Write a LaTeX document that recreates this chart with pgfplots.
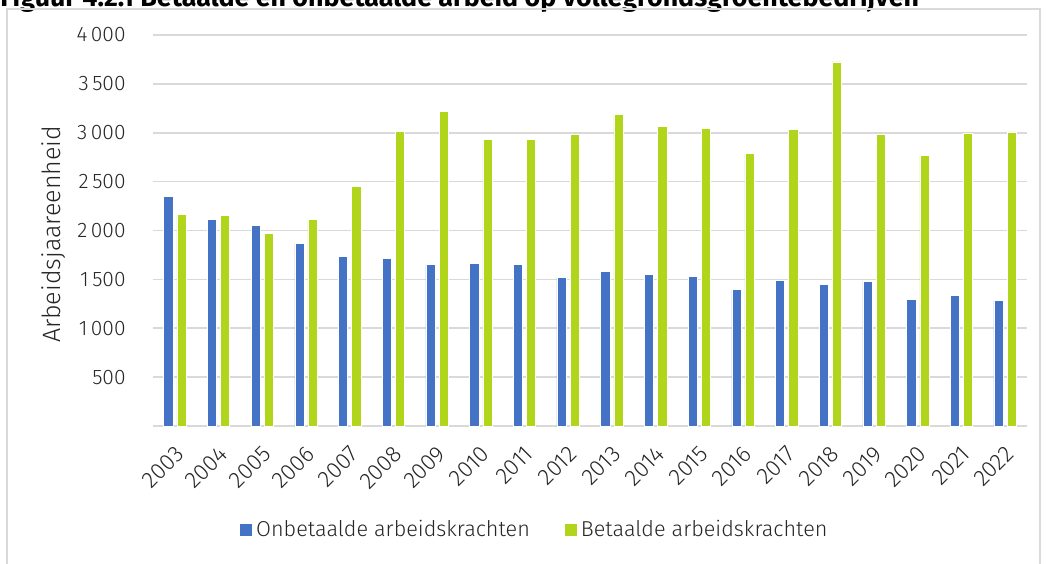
\documentclass[border=0pt]{standalone}
\usepackage{pgfplots}
\pgfplotsset{compat=1.18}
\usepackage{fontspec}
\setmainfont{Fira Sans}[UprightFont=* Light, BoldFont=* Bold]
\definecolor{barblue}{HTML}{4472C4}
\definecolor{bargreen}{HTML}{B0D51A}
\definecolor{gridgray}{HTML}{D9D9D9}
\definecolor{framegray}{HTML}{D9D9D9}
\begin{document}
\begin{tikzpicture}[x=1pt,y=1pt]
\useasboundingbox (0,0) rectangle (525,281.5);
\node[anchor=base west, inner sep=0pt, font=\bfseries\fontsize{13.4}{15}\selectfont] at (0,278.3) {Figuur 4.2.1 Betaalde en onbetaalde arbeid op vollegrondsgroentebedrijven};
\draw[framegray, line width=1pt] (3.5,-5) -- (3.5,277) -- (520,277) -- (520,-5);
\begin{axis}[
  at={(76.5pt,68.5pt)}, anchor=south west,
  scale only axis, width=437pt, height=195.5pt,
  ybar, bar width=4.6pt,
  xmin=-0.5, xmax=19.5, ymin=0, ymax=4000,
  axis line style={draw=none},
  xtick=data,
  xticklabels={2003,2004,2005,2006,2007,2008,2009,2010,2011,2012,2013,2014,2015,2016,2017,2018,2019,2020,2021,2022},
  ytick={500,1000,1500,2000,2500,3000,3500,4000},
  yticklabels={500,1\,000,1\,500,2\,000,2\,500,3\,000,3\,500,4\,000},
  extra y ticks={0}, extra y tick labels={},
  extra y tick style={grid=major},
  ymajorgrids, grid style={gridgray, line width=0.8pt},
  major tick length=0pt,
  yticklabel style={font=\fontsize{10.5}{12}\selectfont, text=black!85, anchor=east, inner sep=0pt, xshift=-13.5pt},
  xticklabel style={font=\fontsize{11.5}{13}\selectfont, text=black!85, xshift=2.5pt, yshift=-12pt, rotate=45, anchor=east, inner sep=0pt},
  ylabel={Arbeidsjaareenheid},
  ylabel style={at={(axis description cs:-0.114,0.49)}, anchor=center, font=\fontsize{12.5}{14}\selectfont, text=black!85},
  legend style={at={(axis description cs:0.438,-0.266)}, anchor=center, legend columns=2, draw=none, fill=none,
     font=\fontsize{10.8}{13}\selectfont, text=black!85, /tikz/every even column/.append style={column sep=15.5pt}},
  legend image code/.code={\fill[#1, draw=none] (0pt,-3pt) rectangle (6pt,3pt);},
]
\addplot[fill=barblue, draw=white, line width=0.25pt, bar shift=-3.3pt] coordinates {
(0,2346) (1,2114) (2,2053) (3,1872) (4,1739) (5,1712) (6,1654) (7,1664) (8,1654) (9,1517)
(10,1579) (11,1551) (12,1527) (13,1395) (14,1493) (15,1452) (16,1480) (17,1296) (18,1333) (19,1286)};
\addplot[fill=bargreen, draw=white, line width=0.25pt, bar shift=3.3pt] coordinates {
(0,2166) (1,2151) (2,1971) (3,2114) (4,2455) (5,3015) (6,3222) (7,2933) (8,2933) (9,2981)
(10,3190) (11,3068) (12,3044) (13,2789) (14,3034) (15,3724) (16,2983) (17,2765) (18,3000) (19,3010)};
\legend{Onbetaalde arbeidskrachten, Betaalde arbeidskrachten}
\end{axis}
\end{tikzpicture}
\end{document}
